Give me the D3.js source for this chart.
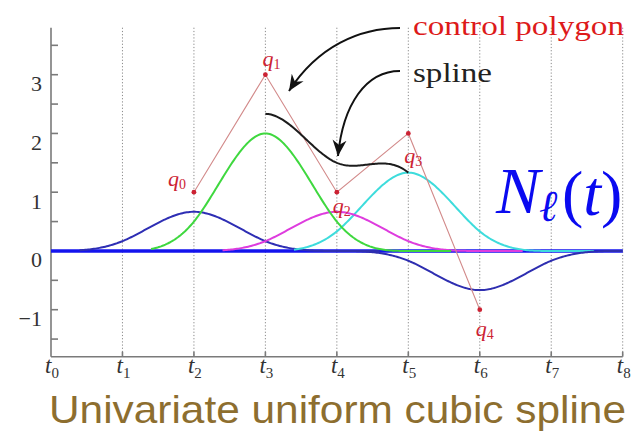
<!DOCTYPE html>
<html>
<head>
<meta charset="utf-8">
<script src="https://cdn.jsdelivr.net/npm/d3@7/dist/d3.min.js"></script>
<style>
  html, body { margin: 0; padding: 0; background: #fff; }
  svg { display: block; }
</style>
</head>
<body>
<svg id="chart" width="636" height="431"></svg>
<script>
// Uniform knot sequence t0..t8
const knots = [0, 1, 2, 3, 4, 5, 6, 7, 8];
const knotLabels = ["0", "1", "2", "3", "4", "5", "6", "7", "8"];

// Control points q0..q4 and the knot each one sits on
const controlNames = ["0", "1", "2", "3", "4"];
const controlKnots = [2, 3, 4, 5, 6];
const controlValues = [1, 3, 1, 2, -1];

// Y axis ticks
const yMajorTicks = [-1, 0, 1, 2, 3];
const yMinorTicks = [-1.5, -0.5, 0.5, 1.5, 2.5, 3.5];

// Spline is valid between t3 and t5
const splineRange = [3, 5];

// Colours of the scaled basis functions (q0..q4)
const basisColors = ["#2e2eb4", "#3fd83f", "#de3cde", "#3edcdc", "#2e2eb0"];

const svg = d3.select("#chart");
const x = d3.scaleLinear().domain([0, 8]).range([51, 622.7]);
const y = d3.scaleLinear().domain([-1.8, 3.8]).range([356.7, 27.7]);

// Uniform cubic B-spline basis centred at c (support c-2..c+2)
function bspline(t, c) {
  const u = Math.abs(t - c);
  if (u < 1) return (4 - 6 * u * u + 3 * u * u * u) / 6;
  if (u < 2) return Math.pow(2 - u, 3) / 6;
  return 0;
}
function sample(a, b, f) {
  const pts = d3.range(a, b, 0.02).map(t => [t, f(t)]);
  pts.push([b, f(b)]);
  return pts;
}
const line = d3.line().x(d => x(d[0])).y(d => y(d[1]));

// Dotted knot lines
svg.append("g").selectAll("line")
  .data(knots.slice(1))
  .join("line")
  .attr("x1", d => x(d)).attr("x2", d => x(d))
  .attr("y1", y(3.8)).attr("y2", y(-1.8))
  .attr("stroke", "#8a8a8a").attr("stroke-width", 1)
  .attr("stroke-dasharray", "1.2,2");

// Axes
const axisG = svg.append("g").attr("stroke", "#7a7a7a").attr("stroke-width", 1.6);
axisG.append("line").attr("x1", x(0)).attr("x2", x(0)).attr("y1", y(3.8)).attr("y2", y(-1.8));
axisG.append("line").attr("x1", x(0)).attr("x2", x(8)).attr("y1", y(-1.8)).attr("y2", y(-1.8));
axisG.selectAll("line.tick")
  .data(yMajorTicks.concat(yMinorTicks))
  .join("line").attr("class", "tick")
  .attr("x1", x(0)).attr("x2", x(0) + 7)
  .attr("y1", d => y(d)).attr("y2", d => y(d));
axisG.selectAll("line.xtick")
  .data(knots.slice(1))
  .join("line").attr("class", "xtick")
  .attr("x1", d => x(d)).attr("x2", d => x(d))
  .attr("y1", y(-1.8)).attr("y2", y(-1.8) - 5);

// Y tick labels
svg.append("g").selectAll("text")
  .data(yMajorTicks)
  .join("text")
  .attr("x", 42).attr("y", d => y(d) + 16.5)
  .attr("text-anchor", "end")
  .attr("font-family", "'Liberation Serif', serif")
  .attr("font-size", 22).attr("fill", "#333")
  .text(d => d < 0 ? "\u2212" + Math.abs(d) : d);

// X tick labels t_i
const xl = svg.append("g").selectAll("text")
  .data(knots)
  .join("text")
  .attr("x", d => x(d) + 1).attr("y", 373)
  .attr("text-anchor", "middle")
  .attr("font-family", "'Liberation Serif', serif")
  .attr("fill", "#333");
xl.append("tspan").attr("font-style", "italic").attr("font-size", 23).text("t");
xl.append("tspan").attr("font-size", 15).attr("dy", 5).text((d, i) => knotLabels[i]);

// Zero line
svg.append("line")
  .attr("x1", x(0)).attr("x2", x(8)).attr("y1", y(0)).attr("y2", y(0))
  .attr("stroke", "#1414ee").attr("stroke-width", 3.4);

// Scaled basis functions q_i * N_i(t)
const drawOrder = [0, 3, 2, 1, 4];
const curveG = svg.append("g").attr("fill", "none").attr("stroke-width", 2);
drawOrder.forEach(i => {
  const c = controlKnots[i];
  const a = i === 4 ? c - 2 : c - 1.6;
  const b = i === 4 ? c + 2 : Math.min(8, c + 2.6);
  curveG.append("path")
    .attr("d", line(sample(a, b, t => controlValues[i] * bspline(t, c))))
    .attr("stroke", basisColors[i]);
});

// Control polygon
const ctrlPts = controlKnots.map((k, i) => [k, controlValues[i]]);
svg.append("path")
  .attr("d", d3.line().x(d => x(d[0])).y(d => y(d[1]))(ctrlPts))
  .attr("fill", "none").attr("stroke", "#d28a8a").attr("stroke-width", 1.1);
svg.append("g").selectAll("circle")
  .data(ctrlPts)
  .join("circle")
  .attr("cx", d => x(d[0])).attr("cy", d => y(d[1])).attr("r", 2.4)
  .attr("fill", "#cc2233");

// Spline curve
svg.append("path")
  .attr("d", line(sample(splineRange[0], splineRange[1], t =>
    d3.sum(controlValues, (q, i) => q * bspline(t, controlKnots[i])))))
  .attr("fill", "none").attr("stroke", "#1c1c1c").attr("stroke-width", 2);

// Labels q_i next to control points
const qOffsets = [[-26, -6], [-3, -9], [-4, 21], [-4, 30], [-4, 26]];
const ql = svg.append("g").selectAll("text")
  .data(ctrlPts)
  .join("text")
  .attr("x", (d, i) => x(d[0]) + qOffsets[i][0])
  .attr("y", (d, i) => y(d[1]) + qOffsets[i][1])
  .attr("font-family", "'Liberation Serif', serif")
  .attr("fill", "#cc2233");
ql.append("tspan").attr("font-style", "italic").attr("font-size", 22).text("q");
ql.append("tspan").attr("font-size", 14).attr("dy", 3).text((d, i) => controlNames[i]);

// Annotation arrows
const defs = svg.append("defs");
defs.append("marker")
  .attr("id", "stealth").attr("viewBox", "-16 -8 18 16")
  .attr("refX", 0).attr("refY", 0)
  .attr("markerWidth", 18).attr("markerHeight", 16)
  .attr("markerUnits", "userSpaceOnUse")
  .attr("orient", "auto")
  .append("path").attr("d", "M0,0 L-16,-7 L-11,0 L-16,7 Z").attr("fill", "#111");

svg.append("path")
  .attr("d", "M400,28 C360,28 318,46 289,91")
  .attr("fill", "none").attr("stroke", "#111").attr("stroke-width", 2)
  .attr("marker-end", "url(#stealth)");
svg.append("path")
  .attr("d", "M400,71 C366,71 343,104 338,156")
  .attr("fill", "none").attr("stroke", "#111").attr("stroke-width", 2)
  .attr("marker-end", "url(#stealth)");

svg.append("text")
  .attr("x", 413).attr("y", 35)
  .attr("font-family", "'Liberation Serif', serif").attr("font-size", 28)
  .attr("fill", "#dd1a1a")
  .attr("textLength", 211).attr("lengthAdjust", "spacingAndGlyphs")
  .text("control polygon");
svg.append("text")
  .attr("x", 413).attr("y", 82)
  .attr("font-family", "'Liberation Serif', serif").attr("font-size", 28)
  .attr("fill", "#222")
  .attr("textLength", 79).attr("lengthAdjust", "spacingAndGlyphs")
  .text("spline");

// N_l(t) label
const nG = svg.append("g")
  .attr("font-family", "'Liberation Serif', 'DejaVu Serif', serif")
  .attr("fill", "#0a0af0");
nG.append("text").attr("x", 496).attr("y", 213)
  .attr("font-size", 66).attr("font-style", "italic").text("N");
nG.append("text").attr("x", 539).attr("y", 221)
  .attr("font-size", 44).attr("font-style", "italic").text("\u2113");
const pt = nG.append("text").attr("x", 562).attr("y", 215).attr("font-size", 64);
pt.append("tspan").text("(");
pt.append("tspan").attr("font-style", "italic").text("t");
pt.append("tspan").text(")");

// Title
svg.append("text")
  .attr("x", 49).attr("y", 423)
  .attr("font-family", "'Liberation Sans', Arial, sans-serif")
  .attr("font-size", 39).attr("fill", "#8d6e2f")
  .attr("textLength", 577).attr("lengthAdjust", "spacingAndGlyphs")
  .text("Univariate uniform cubic spline");
</script>
</body>
</html>
